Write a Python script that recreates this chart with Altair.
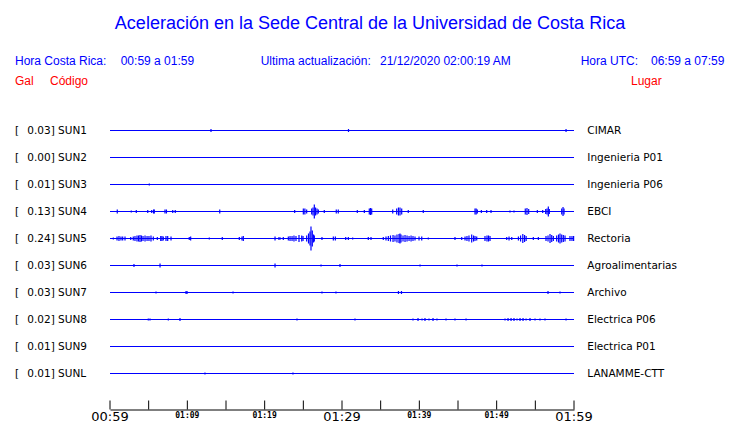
import altair as alt
import pandas as pd

# ---------------- data ----------------
stations = ["SUN1", "SUN2", "SUN3", "SUN4", "SUN5", "SUN6", "SUN7", "SUN8", "SUN9", "SUNL"]
places = ["CIMAR", "Ingenieria P01", "Ingenieria P06", "EBCI", "Rectoria",
          "Agroalimentarias", "Archivo", "Electrica P06", "Electrica P01", "LANAMME-CTT"]
peaks = [0.03, 0.00, 0.01, 0.13, 0.24, 0.03, 0.03, 0.02, 0.01, 0.01]
ROW_GAP = 0.5  # Gal separating consecutive traces

# spikes: minutes after 00:59 and half amplitude (Gal)
sun1_t = [13.06, 30.84, 58.97]
sun1_a = [0.028, 0.028, 0.028]
sun2_t = []
sun2_a = []
sun3_t = [5.08]
sun3_a = [0.019]
sun4_t = [0.94, 2.75, 3.40, 4.88, 5.39, 5.63, 5.73, 7.11, 7.30, 8.11, 8.44, 14.19, 23.88,
          25.00, 25.20, 25.43, 26.08, 26.25, 26.42, 26.58, 26.77, 26.94, 27.71, 29.26, 29.52,
          31.98, 32.89, 33.53, 33.69, 33.84, 36.56, 37.07, 37.30, 37.50, 37.72, 38.57, 40.51,
          47.20, 47.35, 47.50, 48.02, 48.71, 49.27, 51.72, 52.24, 53.70, 53.92, 54.14, 55.26,
          55.95, 56.34, 56.51, 56.68, 56.81, 58.41, 58.58, 58.71]
sun4_a = [0.037, 0.019, 0.028, 0.028, 0.028, 0.037, 0.037, 0.037, 0.037, 0.028, 0.028, 0.037, 0.028,
          0.056, 0.056, 0.037, 0.056, 0.074, 0.130, 0.074, 0.056, 0.037, 0.028, 0.037, 0.037,
          0.028, 0.028, 0.056, 0.065, 0.056, 0.037, 0.056, 0.074, 0.074, 0.056, 0.028, 0.028,
          0.056, 0.056, 0.037, 0.028, 0.028, 0.028, 0.019, 0.019, 0.056, 0.065, 0.046, 0.028,
          0.028, 0.046, 0.056, 0.093, 0.046, 0.056, 0.083, 0.056]
sun5_t = [0.43, 0.91, 1.16, 1.42, 1.64, 1.94, 2.68, 3.01, 3.23, 3.49, 3.69, 3.88, 4.07, 4.27,
          4.53, 4.79, 5.04, 5.30, 5.60, 6.12, 6.56, 6.72, 6.89, 7.24, 7.46, 7.89, 10.25, 10.43,
          12.84, 14.52, 16.72, 17.07, 17.24, 21.34, 21.85, 22.02, 22.41, 23.06, 23.28, 23.54,
          23.79, 24.05, 24.44, 24.79, 24.96, 25.43, 25.67, 25.86, 25.99, 26.16, 26.32, 26.42,
          27.41, 28.88, 29.14, 30.48, 30.82, 31.38, 33.40, 33.75, 35.34, 35.69, 35.99, 36.27,
          36.60, 36.85, 37.11, 37.37, 37.50, 37.63, 37.89, 38.15, 38.41, 38.67, 38.93, 39.18,
          39.44, 39.96, 40.31, 41.16, 44.61, 45.48, 45.91, 46.16, 46.42, 46.77, 47.01, 47.20,
          47.42, 48.49, 48.75, 48.95, 49.14, 51.30, 51.60, 51.95, 52.81, 53.09, 53.38, 53.61,
          53.81, 54.74, 55.39, 56.38, 56.64, 56.90, 57.12, 57.33, 57.76, 58.00, 58.19, 58.41,
          58.62, 58.84, 59.48, 59.74, 59.95]
sun5_a = [0.019, 0.037, 0.046, 0.037, 0.037, 0.037, 0.028, 0.037, 0.046, 0.056, 0.056, 0.065, 0.056, 0.046,
          0.056, 0.046, 0.046, 0.056, 0.037, 0.028, 0.046, 0.046, 0.037, 0.046, 0.046, 0.037, 0.028, 0.037,
          0.019, 0.028, 0.028, 0.037, 0.046, 0.037, 0.028, 0.019, 0.028, 0.037, 0.046, 0.046,
          0.056, 0.046, 0.065, 0.056, 0.046, 0.056, 0.093, 0.130, 0.222, 0.148, 0.074, 0.056,
          0.028, 0.037, 0.037, 0.028, 0.028, 0.019, 0.028, 0.028, 0.028, 0.037, 0.046, 0.056,
          0.065, 0.056, 0.074, 0.083, 0.093, 0.074, 0.056, 0.065, 0.056, 0.046, 0.056, 0.046,
          0.037, 0.037, 0.037, 0.019, 0.028, 0.028, 0.037, 0.046, 0.056, 0.074, 0.056, 0.046,
          0.037, 0.046, 0.056, 0.056, 0.046, 0.028, 0.037, 0.028, 0.037, 0.056, 0.083, 0.065,
          0.046, 0.028, 0.028, 0.046, 0.056, 0.083, 0.065, 0.046, 0.056, 0.074, 0.093, 0.074,
          0.065, 0.056, 0.046, 0.046, 0.046]
sun6_t = [3.10, 6.47, 21.34, 27.29, 29.74, 40.09, 44.87, 48.10]
sun6_a = [0.028, 0.037, 0.037, 0.019, 0.028, 0.019, 0.019, 0.019]
sun7_t = [5.95, 9.83, 9.96, 15.91, 27.41, 29.22, 37.30, 37.69, 56.64, 58.19]
sun7_a = [0.019, 0.028, 0.028, 0.019, 0.019, 0.019, 0.028, 0.028, 0.028, 0.019]
sun8_t = [4.95, 5.17, 7.54, 9.05, 24.18, 31.68, 39.18, 39.83, 40.35, 40.73, 41.25, 41.77, 42.28,
          43.45, 44.61, 46.04, 51.08, 51.47, 51.86, 52.24, 52.63, 53.02, 53.41, 53.80, 54.31,
          54.96, 55.60, 56.25, 58.97]
sun8_a = [0.019, 0.019, 0.019, 0.028, 0.019, 0.019, 0.019, 0.028, 0.019, 0.028, 0.019, 0.028, 0.019,
          0.019, 0.019, 0.019, 0.019, 0.028, 0.028, 0.028, 0.019, 0.028, 0.028, 0.019, 0.028,
          0.019, 0.019, 0.019, 0.019]
sun9_t = []
sun9_a = []
sunl_t = [12.28, 23.66]
sunl_a = [0.019, 0.019]

spike_times = [sun1_t, sun2_t, sun3_t, sun4_t, sun5_t, sun6_t, sun7_t, sun8_t, sun9_t, sunl_t]
spike_amps = [sun1_a, sun2_a, sun3_a, sun4_a, sun5_a, sun6_a, sun7_a, sun8_a, sun9_a, sunl_a]

tick_minutes = list(range(0, 61, 5))
label_minutes = [0, 10, 20, 30, 40, 50, 60]
label_texts = ["00:59", "01:09", "01:19", "01:29", "01:39", "01:49", "01:59"]
label_major = [True, False, False, True, False, False, True]

# ---------------- tables ----------------
n = len(stations)
st_df = pd.DataFrame({
    "station": stations,
    "place": places,
    "base": [(n - 1 - i) * ROW_GAP for i in range(n)],
    "val": [f"{p:.2f}] {s}" for p, s in zip(peaks, stations)],
    "start": 0,
    "end": 60,
})
rows = []
for i, (ts, amps) in enumerate(zip(spike_times, spike_amps)):
    base = (n - 1 - i) * ROW_GAP
    for t, a in zip(ts, amps):
        rows.append({"station": stations[i], "t": t, "lo": base - a, "hi": base + a})
sp_df = pd.DataFrame(rows)
tick_df = pd.DataFrame({"t": tick_minutes})
lab_df = pd.DataFrame({"t": label_minutes, "lab": label_texts, "major": label_major})

BLUE = "#0000ff"
xs = alt.Scale(domain=[0, 60], nice=False, zero=False)
ys = alt.Scale(domain=[-2 / 3, 5.0], nice=False, zero=False)
X_AX = alt.Axis(domain=True, domainColor="#000", domainWidth=1, labels=False,
                ticks=False, grid=False, title=None)

baselines = alt.Chart(st_df).mark_rule(color=BLUE, strokeWidth=1).encode(
    x=alt.X("start:Q", scale=xs, axis=X_AX),
    x2="end:Q",
    y=alt.Y("base:Q", scale=ys, axis=None),
)
spikes = alt.Chart(sp_df).mark_rule(color=BLUE, strokeWidth=1.2).encode(
    x=alt.X("t:Q", scale=xs),
    y=alt.Y("lo:Q", scale=ys),
    y2="hi:Q",
)
ticks = alt.Chart(tick_df).mark_rule(color="#000", strokeWidth=1).encode(
    x=alt.X("t:Q", scale=xs),
    y=alt.value(306),
    y2=alt.value(297),
)
big_labels = alt.Chart(lab_df).transform_filter("datum.major").mark_text(
    font="DejaVu Sans", fontSize=13, color="#000", baseline="middle", align="center"
).encode(x=alt.X("t:Q", scale=xs), y=alt.value(313.5), text="lab:N")
small_labels = alt.Chart(lab_df).transform_filter("!datum.major").mark_text(
    font="DejaVu Sans Mono", fontSize=8, fontWeight="bold", color="#000",
    baseline="middle", align="center"
).encode(x=alt.X("t:Q", scale=xs), y=alt.value(312.7), text="lab:N")

LBL = dict(font="DejaVu Sans", fontSize=10.5, color="#000", baseline="middle", align="left")
bracket = alt.Chart(st_df).mark_text(text="[", **LBL).encode(
    x=alt.value(-95), y=alt.Y("base:Q", scale=ys))
values = alt.Chart(st_df).mark_text(**LBL).encode(
    x=alt.value(-82.7), y=alt.Y("base:Q", scale=ys), text="val:N")
place_txt = alt.Chart(st_df).mark_text(**LBL).encode(
    x=alt.value(477.3), y=alt.Y("base:Q", scale=ys), text="place:N")


def txt(s, x, y, color, size, align="left", font="Liberation Sans"):
    return alt.Chart(pd.DataFrame({"s": [s]})).mark_text(
        font=font, fontSize=size, color=color, align=align, baseline="middle"
    ).encode(x=alt.value(x), y=alt.value(y), text="s:N")


RED = "#ff0000"
headers = [
    txt("Aceleración en la Sede Central de la Universidad de Costa Rica", 260, -80, BLUE, 18, "center"),
    txt("Hora Costa Rica:", -95, -42.3, BLUE, 12),
    txt("00:59 a 01:59", 10.7, -42.3, BLUE, 12),
    txt("Ultima actualización:", 150.7, -42.3, BLUE, 12),
    txt("21/12/2020 02:00:19 AM", 270, -42.3, BLUE, 12),
    txt("Hora UTC:", 470.7, -42.3, BLUE, 12),
    txt("06:59 a 07:59", 541, -42.3, BLUE, 12),
    txt("Gal", -95, -23, RED, 12),
    txt("Código", -60, -23, RED, 12),
    txt("Lugar", 521, -23, RED, 12),
]

chart = alt.layer(
    baselines, spikes, ticks, big_labels, small_labels, bracket, values, place_txt, *headers
).properties(
    width=464, height=306,
    padding={"left": 102, "top": 95.5, "right": 158, "bottom": 16},
    autosize=alt.AutoSizeParams(type="none"),
    background="#ffffff",
).configure_view(stroke=None)

chart.save("out.html", embed_options={"renderer": "svg", "actions": False})
